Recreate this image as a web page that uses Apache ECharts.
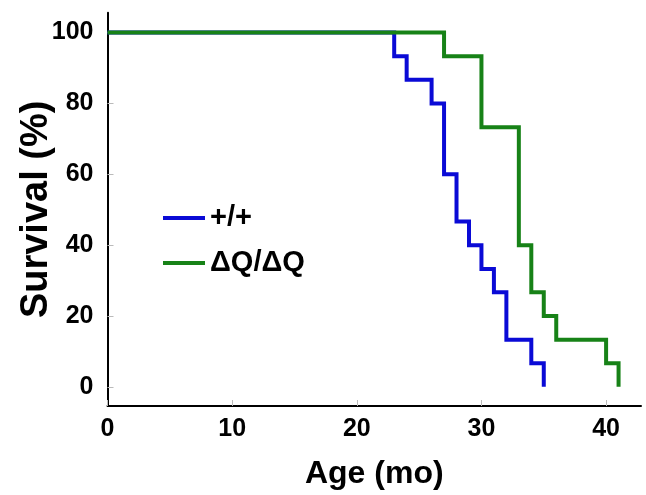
<!DOCTYPE html>
<html>
<head>
<meta charset="utf-8">
<script src="https://cdn.jsdelivr.net/npm/echarts@6/dist/echarts.min.js"></script>
<style>html,body{margin:0;padding:0;background:#fff}#c{width:646px;height:495px}</style>
</head>
<body>
<div id="c"></div>
<script>
const seriesNames = ['+/+', '\u0394Q/\u0394Q'];
const wtAge = [0, 23, 24, 26, 27, 28, 29, 30, 31, 32, 34, 35];
const wtSurv = [100, 93.3, 86.7, 80, 60, 46.7, 40, 33.3, 26.7, 13.3, 6.7, 0];
const dqAge = [0, 27, 30, 33, 34, 35, 36, 40, 41];
const dqSurv = [100, 93.3, 73.3, 40, 26.7, 20, 13.3, 6.7, 0];
const xTicks = [0, 10, 20, 30, 40];
const yTicks = [0, 20, 40, 60, 80, 100];
const xTitle = 'Age (mo)';
const yTitle = 'Survival (%)';

const FONT = '"Liberation Sans", Arial, sans-serif';
const chart = echarts.init(document.getElementById('c'), null, {renderer: 'canvas'});
const zip = (a, b) => a.map((v, i) => [v, b[i]]);

chart.setOption({
  animation: false,
  backgroundColor: '#fff',
  grid: {left: 107.5, top: 12.7, right: 5, bottom: 86.7, containLabel: false},
  legend: {
    orient: 'vertical', left: 163, top: 202, padding: 0,
    icon: 'rect', itemWidth: 42, itemHeight: 4, itemGap: 13, itemTextGap: 10,
    textStyle: {fontFamily: FONT, fontWeight: 'bold', fontSize: 29, color: '#000', lineHeight: 32},
    data: seriesNames
  },
  xAxis: {
    type: 'value', min: 0, max: 42.8,
    name: xTitle, nameLocation: 'middle', nameGap: 52, nameMoveOverlap: false,
    nameTextStyle: {fontFamily: FONT, fontWeight: 'bold', fontSize: 32, color: '#000'},
    axisLine: {show: true, onZero: false, lineStyle: {color: '#000', width: 2}},
    axisTick: {show: true, inside: true, length: 6, customValues: xTicks, lineStyle: {color: '#bbb', width: 1}},
    axisLabel: {customValues: xTicks, margin: 11, fontFamily: FONT, fontWeight: 'bold', fontSize: 25, color: '#000'},
    splitLine: {show: false}
  },
  yAxis: {
    type: 'value', min: -5.4, max: 105.6,
    name: yTitle, nameLocation: 'middle', nameGap: 52, nameRotate: 90, nameMoveOverlap: false,
    nameTextStyle: {fontFamily: FONT, fontWeight: 'bold', fontSize: 38, color: '#000'},
    axisLine: {show: true, onZero: false, lineStyle: {color: '#000', width: 2}},
    axisTick: {show: true, inside: true, length: 6, customValues: yTicks, lineStyle: {color: '#bbb', width: 1}},
    axisLabel: {customValues: yTicks, margin: 14, fontFamily: FONT, fontWeight: 'bold', fontSize: 25, color: '#000'},
    splitLine: {show: false}
  },
  series: [
    {
      name: seriesNames[0], type: 'line', step: 'end', showSymbol: false,
      data: zip(wtAge, wtSurv), color: '#0a0ad6',
      lineStyle: {width: 4, color: '#0a0ad6', cap: 'butt', join: 'miter'}
    },
    {
      name: seriesNames[1], type: 'line', step: 'end', showSymbol: false,
      data: zip(dqAge, dqSurv), color: '#178217',
      lineStyle: {width: 4, color: '#178217', cap: 'butt', join: 'miter'}
    }
  ]
});
</script>
</body>
</html>
